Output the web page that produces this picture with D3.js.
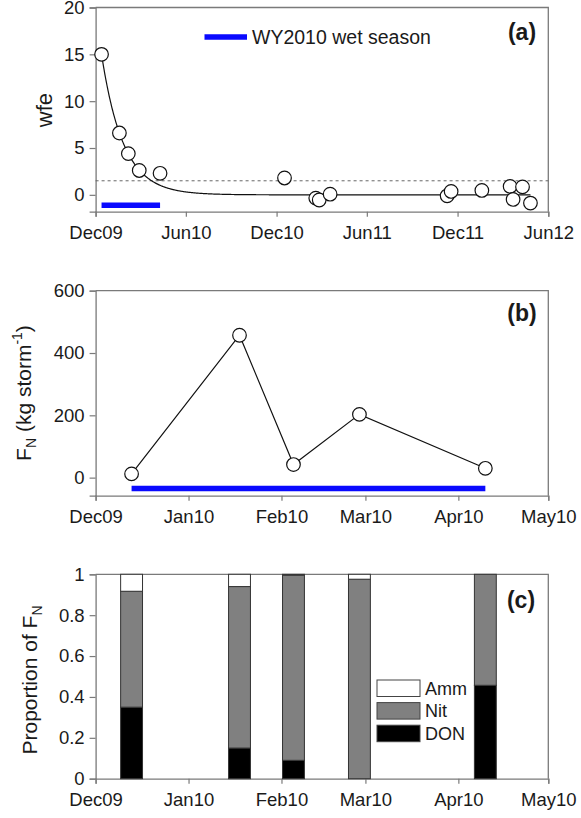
<!DOCTYPE html>
<html>
<head>
<meta charset="utf-8">
<script src="https://cdn.jsdelivr.net/npm/d3@7"></script>
<style>
  body { margin: 0; background: #fff; }
  text { font-family: "Liberation Sans", Arial, sans-serif; fill: #1a1a1a; }
</style>
</head>
<body>
<svg width="581" height="818"></svg>
<script>
// ---- data ----
var wfeDates = ["2009-12-13", "2010-01-18", "2010-02-05", "2010-02-27", "2010-04-10",
                "2010-12-17", "2011-02-18", "2011-02-25", "2011-03-19",
                "2011-11-10", "2011-11-18", "2012-01-19", "2012-03-16", "2012-03-22",
                "2012-04-10", "2012-04-26"];
var wfeValues = [15.0, 6.6, 4.4, 2.6, 2.3,
                 1.8, -0.35, -0.55, 0.07,
                 -0.1, 0.36, 0.47, 0.9, -0.49,
                 0.85, -0.88];
var wfeThreshold = 1.5;
var fitA = 15, fitK = 0.0228;           // exponential fit wfe = A*exp(-k*days)
var wfeTicks = ["2009-12-01", "2010-06-01", "2010-12-01", "2011-06-01", "2011-12-01", "2012-06-01"];

var stormDates = ["2009-12-13", "2010-01-18", "2010-02-05", "2010-02-27", "2010-04-10"];
var fluxValues = [12, 457, 42, 203, 30];
var monthTicks = ["2009-12-01", "2010-01-01", "2010-02-01", "2010-03-01", "2010-04-01", "2010-05-01"];

var donShare = [0.35, 0.15, 0.09, 0.0, 0.457];
var nitShare = [0.567, 0.79, 0.905, 0.976, 0.543];
var ammShare = [0.083, 0.06, 0.005, 0.024, 0.0];

var wetSeason = ["2009-12-13", "2010-04-10"];

var parse = d3.timeParse("%Y-%m-%d"),
    fmt = d3.timeFormat("%b%y");

var svg = d3.select("svg"),
    x0 = 95.6, x1 = 548.3;

function frame(g, y, x, yTicks, yFmt, xTicks) {
    var r = y.range();
    g.append("g")
        .attr("transform", "translate(0," + r[0] + ")")
        .call(d3.axisBottom(x).tickValues(xTicks).tickFormat(fmt).tickSizeOuter(0).tickSize(5).tickPadding(9))
        .call(styleAxis);
    g.append("g")
        .attr("transform", "translate(" + x0 + ",0)")
        .call(d3.axisLeft(y).tickValues(yTicks).tickFormat(yFmt).tickSizeOuter(0).tickSize(6).tickPadding(5))
        .call(styleAxis);
    g.append("path")
        .attr("d", "M" + x0 + "," + r[1] + "H" + x1 + "V" + r[0])
        .attr("fill", "none").attr("stroke", "#7a7a7a").attr("stroke-width", 1.3);
}

function styleAxis(a) {
    a.select(".domain").attr("stroke", "#7a7a7a").attr("stroke-width", 1.3);
    a.selectAll(".tick line").attr("stroke", "#7a7a7a").attr("stroke-width", 1.2);
    a.selectAll(".tick text").style("font-size", "18.5px").attr("fill", "#1a1a1a")
        .style("font-family", "'Liberation Sans', Arial, sans-serif");
}

function panelLabel(g, txt, x, y) {
    g.append("text").attr("x", x).attr("y", y).attr("dy", "0.35em")
        .attr("text-anchor", "middle")
        .style("font-size", "23px").style("font-weight", "bold")
        .text(txt);
}

// ---------- panel (a) ----------
var ga = svg.append("g");
var xa = d3.scaleTime()
    .domain([parse(wfeTicks[0]), parse(wfeTicks[wfeTicks.length - 1])])
    .range([x0, x1]);
var ya = d3.scaleLinear().domain([-1.8, 20]).range([211.7, 7.5]);

frame(ga, ya, xa, [0, 5, 10, 15, 20], d3.format("d"), wfeTicks.map(parse));

ga.append("line")
    .attr("x1", x0).attr("x2", x1)
    .attr("y1", ya(wfeThreshold)).attr("y2", ya(wfeThreshold))
    .attr("stroke", "#666").attr("stroke-width", 1).attr("stroke-dasharray", "3,3");

var t0 = parse(wfeDates[0]),
    tEnd = parse(wfeDates[wfeDates.length - 1]),
    nDays = d3.timeDay.count(t0, tEnd);
var fitPts = d3.range(0, nDays + 1).map(function (d) {
    return [xa(d3.timeDay.offset(t0, d)), ya(fitA * Math.exp(-fitK * d))];
});
ga.append("path")
    .attr("d", d3.line()(fitPts))
    .attr("fill", "none").attr("stroke", "#111").attr("stroke-width", 1.2);

ga.append("line")
    .attr("x1", xa(parse(wetSeason[0]))).attr("x2", xa(parse(wetSeason[1])))
    .attr("y1", ya(-1.1)).attr("y2", ya(-1.1))
    .attr("stroke", "#0a0aff").attr("stroke-width", 5.5);

ga.selectAll("circle")
    .data(wfeDates.map(function (d, i) { return { date: parse(d), v: wfeValues[i] }; }))
    .enter().append("circle")
    .attr("cx", function (d) { return xa(d.date); })
    .attr("cy", function (d) { return ya(d.v); })
    .attr("r", 6.8)
    .attr("fill", "#fff").attr("stroke", "#111").attr("stroke-width", 1.2);

// legend
ga.append("line")
    .attr("x1", 204.5).attr("x2", 247).attr("y1", 37).attr("y2", 37)
    .attr("stroke", "#0a0aff").attr("stroke-width", 5.5);
ga.append("text").attr("x", 252).attr("y", 37).attr("dy", "0.35em")
    .style("font-size", "19.5px").text("WY2010 wet season");

panelLabel(ga, "(a)", 522, 32);

ga.append("text")
    .attr("transform", "translate(52,110) rotate(-90)")
    .attr("text-anchor", "middle")
    .style("font-size", "22px").text("wfe");

// ---------- panel (b) ----------
var gb = svg.append("g");
var xb = d3.scaleTime()
    .domain([parse(monthTicks[0]), parse(monthTicks[monthTicks.length - 1])])
    .range([x0, x1]);
var yb = d3.scaleLinear().domain([-58, 600]).range([495.7, 290.7]);

frame(gb, yb, xb, [0, 200, 400, 600], d3.format("d"), monthTicks.map(parse));

var fluxData = stormDates.map(function (d, i) { return { date: parse(d), v: fluxValues[i] }; });

gb.append("line")
    .attr("x1", xb(parse(wetSeason[0]))).attr("x2", xb(parse(wetSeason[1])))
    .attr("y1", yb(-35)).attr("y2", yb(-35))
    .attr("stroke", "#0a0aff").attr("stroke-width", 5.5);

gb.append("path")
    .datum(fluxData)
    .attr("d", d3.line().x(function (d) { return xb(d.date); }).y(function (d) { return yb(d.v); }))
    .attr("fill", "none").attr("stroke", "#111").attr("stroke-width", 1.2);

gb.selectAll("circle")
    .data(fluxData)
    .enter().append("circle")
    .attr("cx", function (d) { return xb(d.date); })
    .attr("cy", function (d) { return yb(d.v); })
    .attr("r", 6.8)
    .attr("fill", "#fff").attr("stroke", "#111").attr("stroke-width", 1.2);

panelLabel(gb, "(b)", 522, 313);

var lb = gb.append("text")
    .attr("transform", "translate(31,393) rotate(-90)")
    .attr("text-anchor", "middle")
    .style("font-size", "21px");
lb.append("tspan").text("F");
lb.append("tspan").attr("dy", 5).style("font-size", "14px").text("N");
lb.append("tspan").attr("dy", -5).text(" (kg storm");
lb.append("tspan").attr("dy", -9).style("font-size", "14px").text("-1");
lb.append("tspan").attr("dy", 9).text(")");

// ---------- panel (c) ----------
var gc = svg.append("g");
var xc = xb.copy();
var yc = d3.scaleLinear().domain([0, 1]).range([778.7, 574.3]);

frame(gc, yc, xc, [0, 0.2, 0.4, 0.6, 0.8, 1], function (d) { return String(d); }, monthTicks.map(parse));

var keys = ["DON", "Nit", "Amm"],
    fills = { DON: "#000", Nit: "#808080", Amm: "#fff" };
var shareRows = stormDates.map(function (d, i) {
    return { date: parse(d), DON: donShare[i], Nit: nitShare[i], Amm: ammShare[i] };
});
var stacked = d3.stack().keys(keys)(shareRows);
var halfBar = 3.65 * 864e5;

gc.selectAll("g.layer")
    .data(stacked)
    .enter().append("g").attr("class", "layer")
    .attr("fill", function (s) { return fills[s.key]; })
    .selectAll("rect")
    .data(function (s) { return s.filter(function (p) { return p[1] - p[0] > 0; }); })
    .enter().append("rect")
    .attr("x", function (p) { return xc(new Date(+p.data.date - halfBar)); })
    .attr("width", function (p) { return xc(new Date(+p.data.date + halfBar)) - xc(new Date(+p.data.date - halfBar)); })
    .attr("y", function (p) { return yc(p[1]); })
    .attr("height", function (p) { return yc(p[0]) - yc(p[1]); })
    .attr("stroke", "#333").attr("stroke-width", 1);

// legend
var legKeys = ["Amm", "Nit", "DON"];
var leg = gc.selectAll("g.leg")
    .data(legKeys)
    .enter().append("g").attr("class", "leg")
    .attr("transform", function (d, i) { return "translate(377," + (680 + i * 22.6) + ")"; });
leg.append("rect")
    .attr("width", 43).attr("height", 16.5)
    .attr("fill", function (d) { return fills[d]; })
    .attr("stroke", "#444").attr("stroke-width", 1);
leg.append("text")
    .attr("x", 48).attr("y", 8.5).attr("dy", "0.35em")
    .style("font-size", "18px")
    .text(function (d) { return d; });

panelLabel(gc, "(c)", 521, 600);

var lc = gc.append("text")
    .attr("transform", "translate(37,680) rotate(-90)")
    .attr("text-anchor", "middle")
    .style("font-size", "21px");
lc.append("tspan").text("Proportion of F");
lc.append("tspan").attr("dy", 5).style("font-size", "14px").text("N");
</script>
</body>
</html>
